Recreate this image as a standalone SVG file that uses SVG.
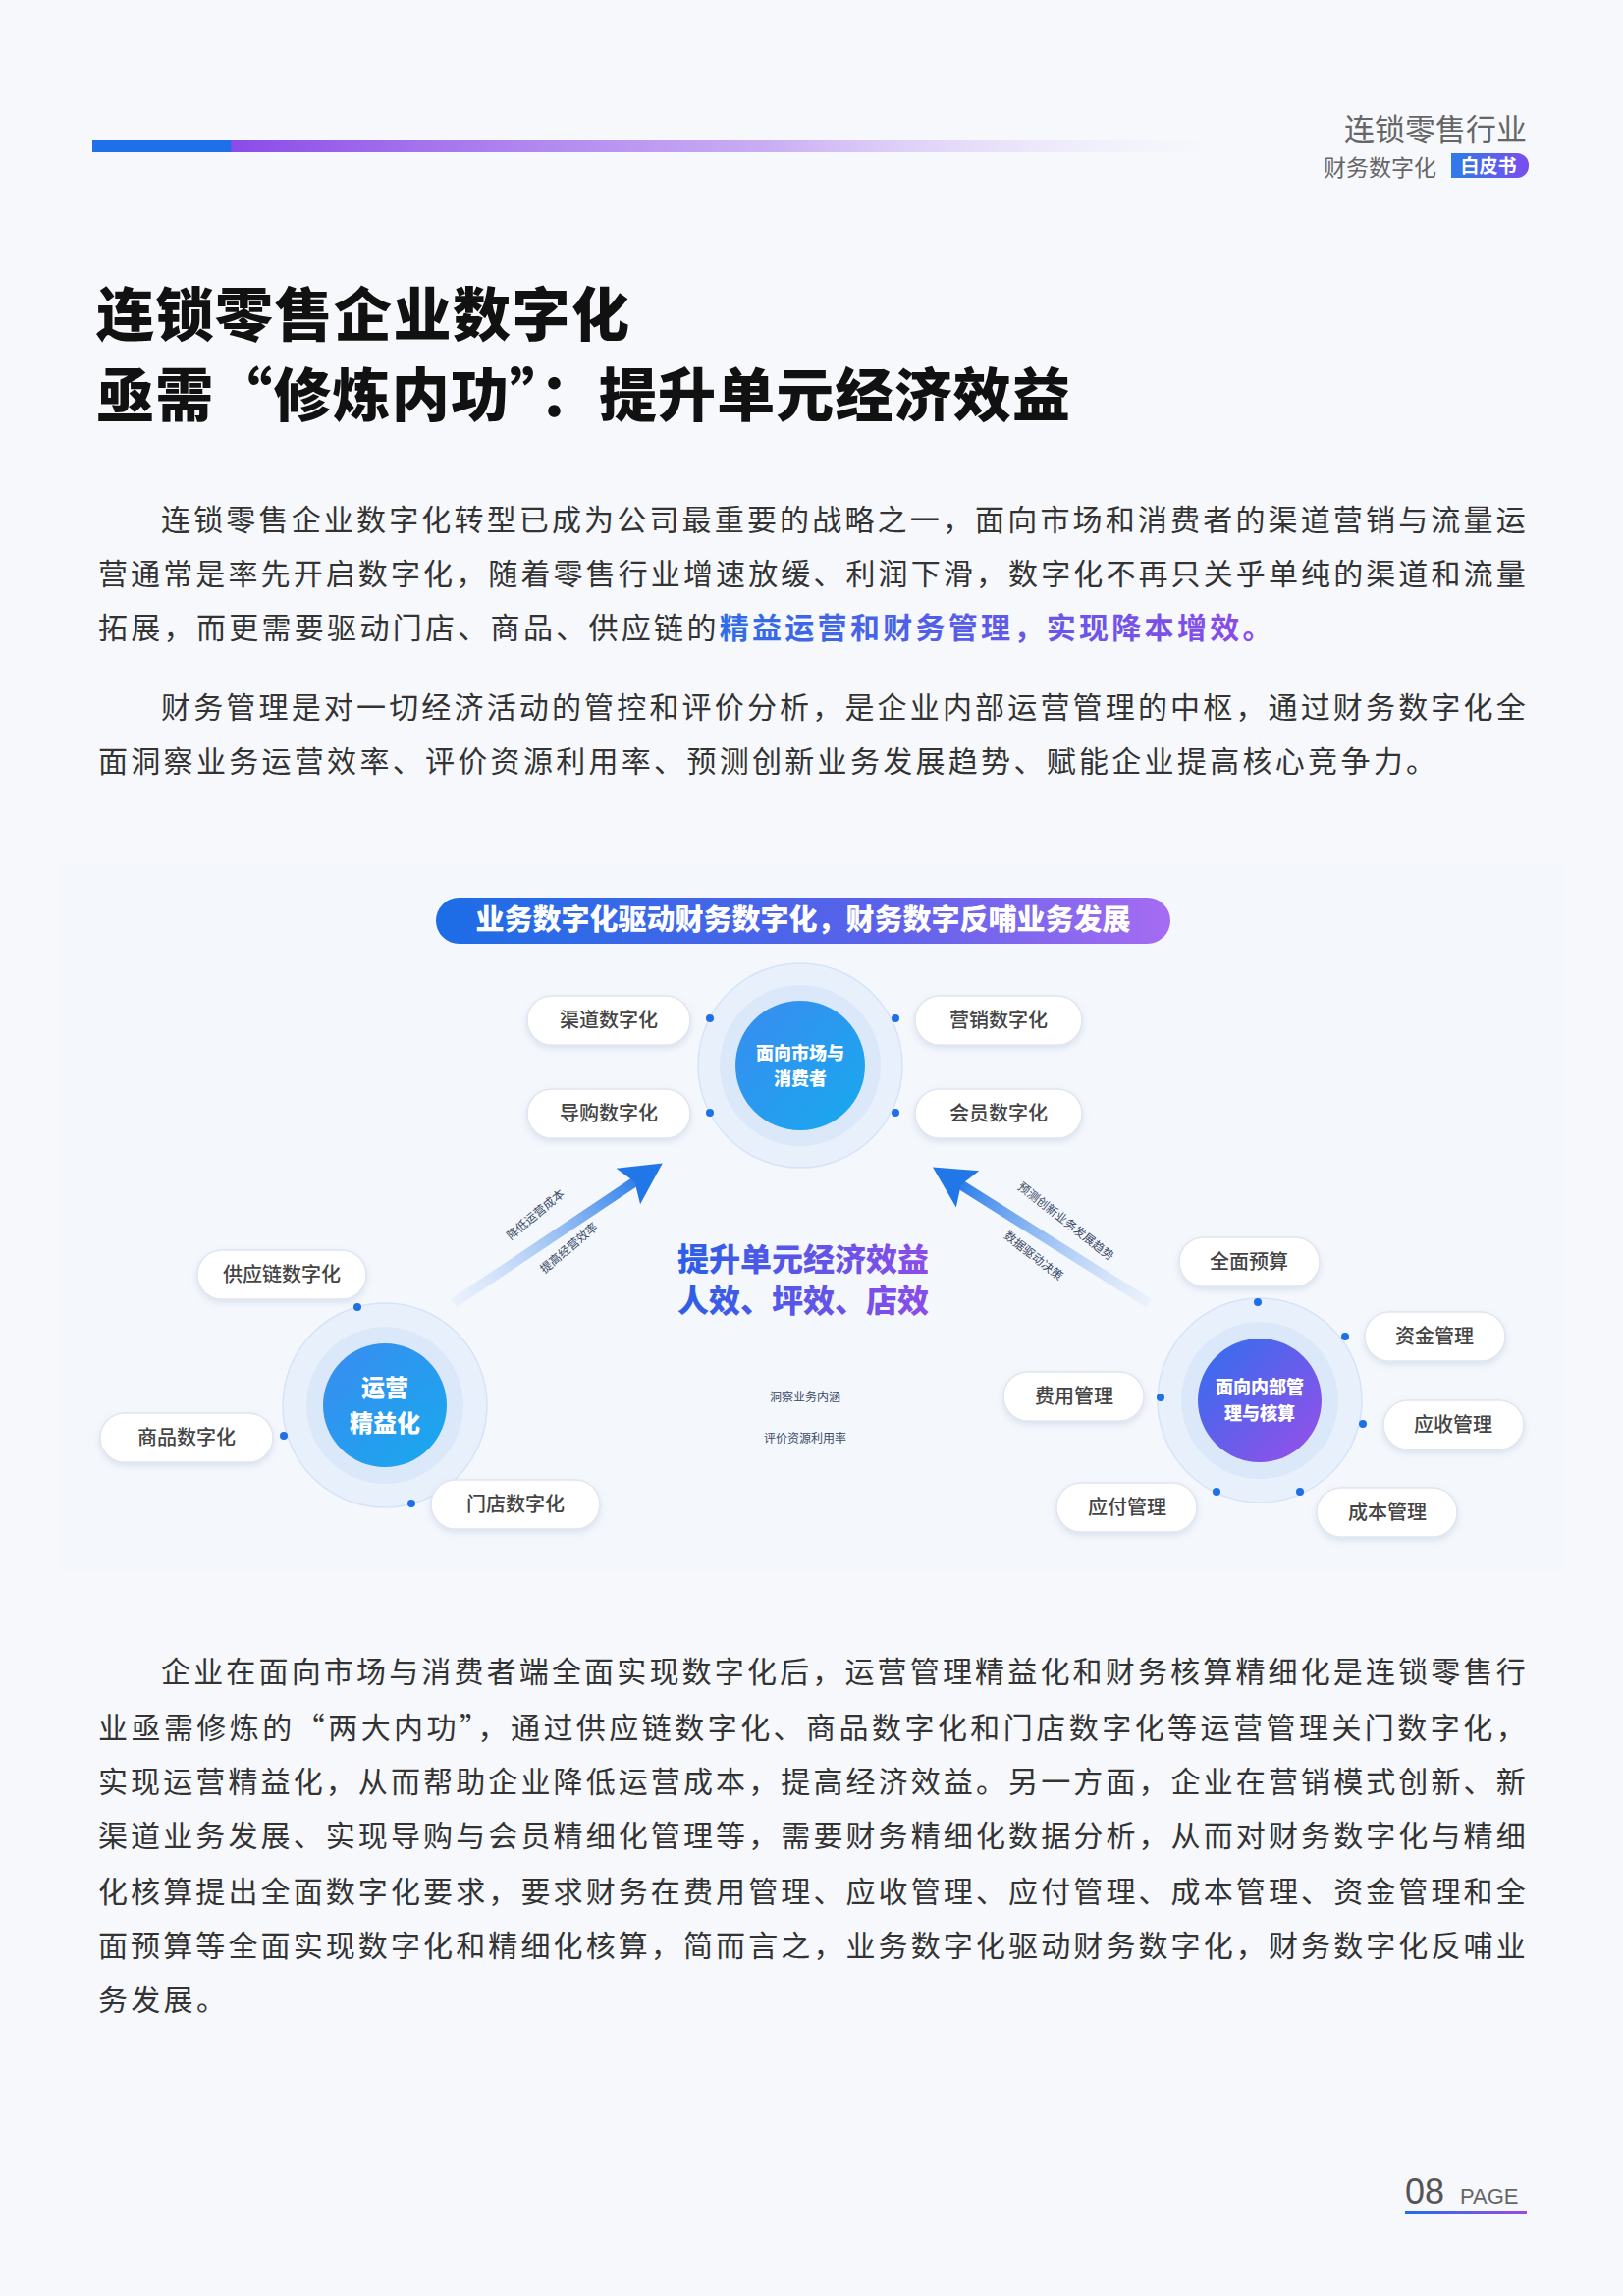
<svg xmlns="http://www.w3.org/2000/svg" width="1653" height="2338" viewBox="0 0 1653 2338">
<defs>
<style>
.cjk{font-family:"Noto Sans CJK SC","Noto Sans",sans-serif}
.body{font-family:"Noto Sans CJK SC",sans-serif;font-size:30px;fill:#333;letter-spacing:3.3px}
.pill rect{fill:#fff;stroke:#e1e6ee;stroke-width:1.5;filter:url(#sh)}
.pill text{font-family:"Noto Sans CJK SC",sans-serif;font-size:20px;fill:#444;text-anchor:middle;font-weight:500}
.dot{fill:#1f6fe8}
.lbl{font-family:"Noto Sans CJK SC",sans-serif;font-size:12px;fill:#3a4a66;text-anchor:middle}
.ctr{font-family:"Noto Sans CJK SC",sans-serif;fill:#fff;font-weight:900;text-anchor:middle}
</style>
<filter id="sh" x="-20%" y="-30%" width="140%" height="170%"><feDropShadow dx="0" dy="3" stdDeviation="3" flood-color="#8aa0c8" flood-opacity="0.25"/></filter>
<linearGradient id="topbar" x1="94" x2="1237" y1="0" y2="0" gradientUnits="userSpaceOnUse">
<stop offset="0" stop-color="#1f6fe8"/><stop offset="0.123" stop-color="#1f6fe8"/><stop offset="0.124" stop-color="#8a4be8"/><stop offset="0.6" stop-color="#b58df0" stop-opacity="0.7"/><stop offset="1" stop-color="#e8ddfa" stop-opacity="0"/>
</linearGradient>
<linearGradient id="badge" x1="0" x2="1" y1="0" y2="0"><stop offset="0" stop-color="#2f7be8"/><stop offset="1" stop-color="#7a4cf0"/></linearGradient>
<linearGradient id="banner" x1="444" x2="1192" y1="0" y2="0" gradientUnits="userSpaceOnUse"><stop offset="0" stop-color="#1c6de6"/><stop offset="0.6" stop-color="#5a62ea"/><stop offset="1" stop-color="#a56cf2"/></linearGradient>
<linearGradient id="hl" x1="730" x2="1277" y1="0" y2="0" gradientUnits="userSpaceOnUse"><stop offset="0" stop-color="#2e6ce6"/><stop offset="1" stop-color="#8a4be8"/></linearGradient>
<linearGradient id="cen" x1="686" x2="949" y1="0" y2="0" gradientUnits="userSpaceOnUse"><stop offset="0" stop-color="#2a5fe6"/><stop offset="1" stop-color="#8d4ce8"/></linearGradient>
<linearGradient id="blueball" x1="0" y1="0" x2="1" y2="1"><stop offset="0" stop-color="#3a8cf0"/><stop offset="1" stop-color="#17a9ee"/></linearGradient>
<linearGradient id="purpball" x1="0" y1="0" x2="1" y2="1"><stop offset="0" stop-color="#2f6fee"/><stop offset="1" stop-color="#9a4ee8"/></linearGradient>
<linearGradient id="arr" x1="0" x2="235" y1="0" y2="0" gradientUnits="userSpaceOnUse"><stop offset="0" stop-color="#9cc2f5" stop-opacity="0.1"/><stop offset="1" stop-color="#2277e8"/></linearGradient>
<linearGradient id="foot" x1="0" x2="1" y1="0" y2="0"><stop offset="0" stop-color="#1f6fe8"/><stop offset="1" stop-color="#9a4be8"/></linearGradient>
</defs>
<rect width="1653" height="2338" fill="#f6f8fc"/>
<!-- header -->
<rect x="94" y="143" width="1143" height="12" fill="url(#topbar)"/>
<text x="1555" y="143" class="cjk" font-size="31" fill="#666" text-anchor="end">连锁零售行业</text>
<text x="1348" y="179" class="cjk" font-size="23" fill="#666">财务数字化</text>
<path d="M1478 156 H1545 A12 12 0 0 1 1557 168 V169 A12 12 0 0 1 1545 181 H1478 Z" fill="url(#badge)"/>
<text x="1516" y="176" class="cjk" font-size="19" font-weight="700" fill="#fff" text-anchor="middle">白皮书</text>
<!-- title -->
<text x="98" y="342" class="cjk" font-size="59" font-weight="900" fill="#111" letter-spacing="1.5">连锁零售企业数字化</text>
<text x="98" y="424" class="cjk" font-size="59" font-weight="900" fill="#111" textLength="992" lengthAdjust="spacing">亟需“修炼内功”：提升单元经济效益</text>
<!-- paragraph 1 -->
<text class="body" x="164" y="540" textLength="1393" lengthAdjust="spacing">连锁零售企业数字化转型已成为公司最重要的战略之一，面向市场和消费者的渠道营销与流量运</text>
<text class="body" x="100" y="595" textLength="1457" lengthAdjust="spacing">营通常是率先开启数字化，随着零售行业增速放缓、利润下滑，数字化不再只关乎单纯的渠道和流量</text>
<text class="body" x="100" y="650">拓展，而更需要驱动门店、商品、供应链的<tspan fill="url(#hl)" font-weight="700">精益运营和财务管理，实现降本增效。</tspan></text>
<!-- paragraph 2 -->
<text class="body" x="164" y="731" textLength="1393" lengthAdjust="spacing">财务管理是对一切经济活动的管控和评价分析，是企业内部运营管理的中枢，通过财务数字化全</text>
<text class="body" x="100" y="786">面洞察业务运营效率、评价资源利用率、预测创新业务发展趋势、赋能企业提高核心竞争力。</text>
<!-- diagram background -->
<rect x="60" y="880" width="1533" height="720" fill="#f4f7fc"/>
<g id="banner">
<rect x="444" y="914" width="748" height="47" rx="23.5" fill="url(#banner)"/>
<text x="818" y="947" class="cjk" font-size="29" font-weight="900" fill="#fff" text-anchor="middle">业务数字化驱动财务数字化，财务数字反哺业务发展</text>
</g>
<g id="connectors">
<g transform="translate(462,1327) rotate(-33.8)">
<line x1="0" y1="0" x2="235" y2="0" stroke="url(#arr)" stroke-width="10"/>
<polygon points="256,0 214,-22 222,0 214,22" fill="#2277e8"/>
</g>
<g transform="translate(1170,1327) rotate(-147.8)">
<line x1="0" y1="0" x2="235" y2="0" stroke="url(#arr)" stroke-width="10"/>
<polygon points="260,0 218,-22 226,0 218,22" fill="#2277e8"/>
</g>
<text class="lbl" transform="translate(548,1240) rotate(-40)">降低运营成本</text>
<text class="lbl" transform="translate(582,1274) rotate(-40)">提高经营效率</text>
<text class="lbl" transform="translate(1083,1247) rotate(38)">预测创新业务发展趋势</text>
<text class="lbl" transform="translate(1050,1282) rotate(38)">数据驱动决策</text>
</g>
<g id="center-text">
<text x="818" y="1294" class="cjk" font-size="32" font-weight="900" fill="url(#cen)" text-anchor="middle">提升单元经济效益</text>
<text x="818" y="1336" class="cjk" font-size="32" font-weight="900" fill="url(#cen)" text-anchor="middle">人效、坪效、店效</text>
<text class="lbl" x="820" y="1427">洞察业务内涵</text>
<text class="lbl" x="820" y="1469">评价资源利用率</text>
</g>
<!-- top hub -->
<g id="hub-market">
<circle cx="815" cy="1085" r="104" fill="#e8f0fc" stroke="#d6e4f8" stroke-width="1.5"/>
<circle cx="815" cy="1085" r="82" fill="#dbe8fa"/>
<circle cx="815" cy="1085" r="66" fill="url(#blueball)"/>
<text class="ctr" x="815" y="1079" font-size="18">面向市场与</text>
<text class="ctr" x="815" y="1105" font-size="18">消费者</text>
</g>
<g id="pill-qudao" class="pill"><rect x="537" y="1014" width="166" height="50" rx="25"/><text x="620" y="1046">渠道数字化</text></g>
<g id="pill-daogou" class="pill"><rect x="537" y="1109" width="166" height="50" rx="25"/><text x="620" y="1141">导购数字化</text></g>
<g id="pill-yingxiao" class="pill"><rect x="932" y="1014" width="170" height="50" rx="25"/><text x="1017" y="1046">营销数字化</text></g>
<g id="pill-huiyuan" class="pill"><rect x="932" y="1109" width="170" height="50" rx="25"/><text x="1017" y="1141">会员数字化</text></g>
<circle class="dot" cx="723" cy="1037" r="4"/><circle class="dot" cx="723" cy="1133" r="4"/>
<circle class="dot" cx="912" cy="1037" r="4"/><circle class="dot" cx="912" cy="1133" r="4"/>
<!-- left hub -->
<g id="hub-ops">
<circle cx="392" cy="1431" r="104" fill="#e8f0fc" stroke="#d6e4f8" stroke-width="1.5"/>
<circle cx="392" cy="1431" r="80" fill="#dbe8fa"/>
<circle cx="392" cy="1431" r="63" fill="url(#blueball)"/>
<text class="ctr" x="392" y="1422" font-size="24">运营</text>
<text class="ctr" x="392" y="1458" font-size="24">精益化</text>
</g>
<g id="pill-gyl" class="pill"><rect x="201" y="1273" width="172" height="50" rx="25"/><text x="287" y="1305">供应链数字化</text></g>
<g id="pill-sp" class="pill"><rect x="102" y="1439" width="176" height="50" rx="25"/><text x="190" y="1471">商品数字化</text></g>
<g id="pill-md" class="pill"><rect x="439" y="1507" width="172" height="50" rx="25"/><text x="525" y="1539">门店数字化</text></g>
<circle class="dot" cx="364" cy="1331" r="4"/><circle class="dot" cx="289" cy="1462" r="4"/><circle class="dot" cx="419" cy="1531" r="4"/>
<!-- right hub -->
<g id="hub-fin">
<circle cx="1283" cy="1426" r="104" fill="#e8f0fc" stroke="#d6e4f8" stroke-width="1.5"/>
<circle cx="1283" cy="1426" r="80" fill="#dbe8fa"/>
<circle cx="1283" cy="1426" r="63" fill="url(#purpball)"/>
<text class="ctr" x="1283" y="1419" font-size="18">面向内部管</text>
<text class="ctr" x="1283" y="1446" font-size="18">理与核算</text>
</g>
<g id="pill-qmys" class="pill"><rect x="1201" y="1260" width="143" height="50" rx="25"/><text x="1272" y="1292">全面预算</text></g>
<g id="pill-zj" class="pill"><rect x="1390" y="1336" width="143" height="50" rx="25"/><text x="1461" y="1368">资金管理</text></g>
<g id="pill-fy" class="pill"><rect x="1022" y="1397" width="143" height="50" rx="25"/><text x="1094" y="1429">费用管理</text></g>
<g id="pill-ys" class="pill"><rect x="1409" y="1426" width="143" height="50" rx="25"/><text x="1480" y="1458">应收管理</text></g>
<g id="pill-yf" class="pill"><rect x="1076" y="1510" width="143" height="50" rx="25"/><text x="1148" y="1542">应付管理</text></g>
<g id="pill-cb" class="pill"><rect x="1341" y="1515" width="143" height="50" rx="25"/><text x="1413" y="1547">成本管理</text></g>
<circle class="dot" cx="1281" cy="1326" r="4"/><circle class="dot" cx="1370" cy="1361" r="4"/><circle class="dot" cx="1388" cy="1450" r="4"/>
<circle class="dot" cx="1182" cy="1423" r="4"/><circle class="dot" cx="1239" cy="1519" r="4"/><circle class="dot" cx="1324" cy="1519" r="4"/>
<!-- paragraph 3 -->
<text class="body" x="164" y="1713" textLength="1393" lengthAdjust="spacing">企业在面向市场与消费者端全面实现数字化后，运营管理精益化和财务核算精细化是连锁零售行</text>
<text class="body" x="100" y="1770" textLength="1457" lengthAdjust="spacing">业亟需修炼的“两大内功”，通过供应链数字化、商品数字化和门店数字化等运营管理关门数字化，</text>
<text class="body" x="100" y="1825" textLength="1457" lengthAdjust="spacing">实现运营精益化，从而帮助企业降低运营成本，提高经济效益。另一方面，企业在营销模式创新、新</text>
<text class="body" x="100" y="1880" textLength="1457" lengthAdjust="spacing">渠道业务发展、实现导购与会员精细化管理等，需要财务精细化数据分析，从而对财务数字化与精细</text>
<text class="body" x="100" y="1937" textLength="1457" lengthAdjust="spacing">化核算提出全面数字化要求，要求财务在费用管理、应收管理、应付管理、成本管理、资金管理和全</text>
<text class="body" x="100" y="1992" textLength="1457" lengthAdjust="spacing">面预算等全面实现数字化和精细化核算，简而言之，业务数字化驱动财务数字化，财务数字化反哺业</text>
<text class="body" x="100" y="2047">务发展。</text>
<!-- footer -->
<text x="1431" y="2244" font-family="Liberation Sans, sans-serif" font-size="36" fill="#555">08</text>
<text x="1487" y="2244" font-family="Liberation Sans, sans-serif" font-size="22" fill="#666">PAGE</text>
<rect x="1431" y="2251" width="124" height="4" fill="url(#foot)"/>
</svg>
